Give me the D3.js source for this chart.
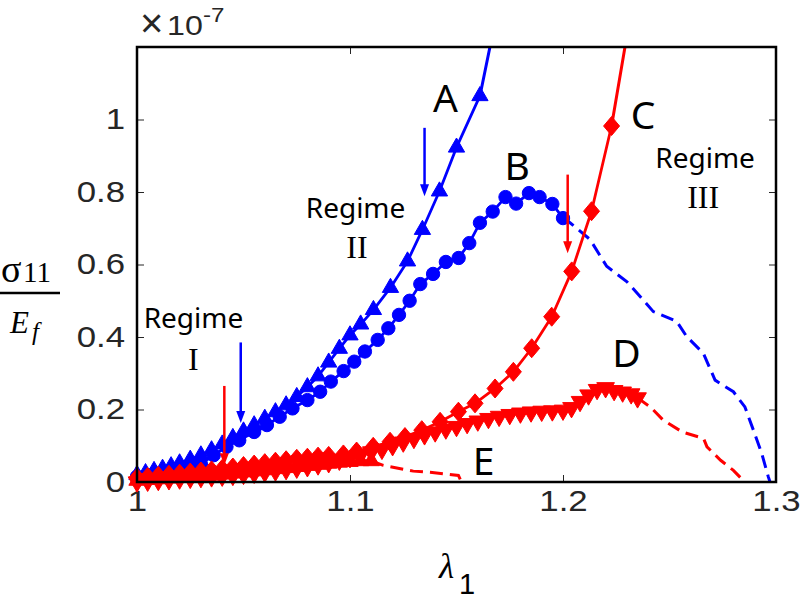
<!DOCTYPE html>
<html>
<head>
<meta charset="utf-8">
<script src="https://cdn.jsdelivr.net/npm/d3@7"></script>
<style>
  body { margin: 0; background: #fff; }
  svg { display: block; }
</style>
</head>
<body>
<div id="chart"></div>
<script>
// ---- data (lambda_1 vs sigma_11/E_f, x 1e-7) ----
var lamA = [1.000, 1.004, 1.008, 1.012, 1.016, 1.020, 1.025, 1.030, 1.035, 1.040, 1.045, 1.050, 1.055, 1.060, 1.065, 1.070, 1.075, 1.080, 1.085, 1.090, 1.095, 1.100, 1.105, 1.111, 1.119, 1.127, 1.134, 1.142, 1.150, 1.161];
var valA = [0.020, 0.025, 0.031, 0.037, 0.044, 0.052, 0.062, 0.074, 0.088, 0.104, 0.122, 0.140, 0.157, 0.175, 0.193, 0.212, 0.235, 0.262, 0.292, 0.330, 0.368, 0.405, 0.435, 0.475, 0.536, 0.609, 0.696, 0.802, 0.923, 1.065];
var lamATail = [1.161, 1.1657, 1.170];
var valATail = [1.065, 1.200, 1.320];

var lamB = [1.000, 1.005, 1.010, 1.015, 1.020, 1.025, 1.030, 1.036, 1.042, 1.048, 1.055, 1.061, 1.067, 1.073, 1.080, 1.086, 1.091, 1.097, 1.102, 1.107, 1.113, 1.118, 1.123, 1.128, 1.133, 1.139, 1.145, 1.151, 1.156, 1.161, 1.167, 1.173, 1.178, 1.184, 1.189, 1.195, 1.200];
var valB = [0.015, 0.019, 0.023, 0.027, 0.031, 0.037, 0.050, 0.074, 0.097, 0.115, 0.138, 0.157, 0.180, 0.203, 0.226, 0.249, 0.277, 0.306, 0.332, 0.360, 0.392, 0.424, 0.461, 0.500, 0.546, 0.574, 0.607, 0.618, 0.659, 0.715, 0.746, 0.786, 0.768, 0.797, 0.786, 0.767, 0.728];
var lamBDash = [1.200, 1.2033, 1.2127, 1.2205, 1.2299, 1.2362, 1.2424, 1.2534, 1.2581, 1.2659, 1.2714, 1.2800, 1.2854, 1.2894, 1.2933, 1.2964, 1.2972];
var valBDash = [0.728, 0.715, 0.669, 0.595, 0.553, 0.512, 0.470, 0.443, 0.401, 0.355, 0.281, 0.249, 0.207, 0.143, 0.079, 0.014, 0.000];

var lamC = [1.000, 1.005, 1.010, 1.015, 1.020, 1.025, 1.030, 1.035, 1.040, 1.045, 1.050, 1.055, 1.060, 1.065, 1.070, 1.075, 1.080, 1.085, 1.090, 1.0969, 1.1031, 1.1109, 1.1188, 1.1258, 1.1337, 1.1423, 1.1509, 1.1587, 1.1681, 1.1767, 1.1853, 1.1947, 1.2041, 1.2134, 1.2228];
var valC = [0.012, 0.014, 0.017, 0.020, 0.023, 0.026, 0.029, 0.032, 0.036, 0.040, 0.044, 0.048, 0.052, 0.056, 0.060, 0.064, 0.067, 0.070, 0.072, 0.076, 0.084, 0.097, 0.111, 0.124, 0.143, 0.166, 0.194, 0.217, 0.258, 0.304, 0.369, 0.456, 0.581, 0.747, 0.982];
var lamCTail = [1.2228, 1.2291, 1.232];
var valCTail = [0.982, 1.200, 1.300];

var lamD = [1.000, 1.005, 1.010, 1.015, 1.020, 1.025, 1.030, 1.035, 1.040, 1.045, 1.050, 1.055, 1.060, 1.065, 1.070, 1.075, 1.080, 1.085, 1.090, 1.095, 1.100, 1.105, 1.110, 1.115, 1.120, 1.125, 1.130, 1.135, 1.140, 1.145, 1.150, 1.155, 1.160, 1.165, 1.170, 1.175, 1.180, 1.185, 1.190, 1.195, 1.200, 1.204, 1.208, 1.212, 1.216, 1.220, 1.224, 1.228, 1.232, 1.235];
var valD = [0.000, 0.002, 0.004, 0.006, 0.008, 0.010, 0.012, 0.014, 0.016, 0.018, 0.021, 0.024, 0.027, 0.030, 0.034, 0.038, 0.042, 0.047, 0.053, 0.060, 0.067, 0.075, 0.083, 0.090, 0.100, 0.110, 0.120, 0.130, 0.138, 0.146, 0.153, 0.161, 0.168, 0.175, 0.181, 0.186, 0.190, 0.193, 0.195, 0.196, 0.198, 0.205, 0.222, 0.240, 0.255, 0.260, 0.252, 0.248, 0.243, 0.232];
var lamDDash = [1.235, 1.241, 1.247, 1.256, 1.266, 1.2676, 1.274, 1.280, 1.2845];
var valDDash = [0.232, 0.207, 0.171, 0.138, 0.120, 0.097, 0.060, 0.032, 0.005];

var lamE = [1.000, 1.005, 1.010, 1.015, 1.020, 1.025, 1.030, 1.035, 1.040, 1.045, 1.050, 1.055, 1.060, 1.065, 1.070, 1.075, 1.080, 1.085, 1.090, 1.095, 1.100, 1.105, 1.110];
var valE = [0.004, 0.006, 0.008, 0.010, 0.012, 0.014, 0.016, 0.018, 0.021, 0.024, 0.027, 0.030, 0.033, 0.036, 0.039, 0.042, 0.045, 0.048, 0.051, 0.054, 0.056, 0.058, 0.058];
var lamEDash = [1.110, 1.1156, 1.1297, 1.1376, 1.1509, 1.1520];
var valEDash = [0.058, 0.046, 0.030, 0.027, 0.018, 0.004];

var xTicks = [1, 1.1, 1.2, 1.3];
var xTickLabels = ["1", "1.1", "1.2", "1.3"];
var yTicks = [0, 0.2, 0.4, 0.6, 0.8, 1];
var yTickLabels = ["0", "0.2", "0.4", "0.6", "0.8", "1"];

// annotations, in data units
var curveNames = ["A", "B", "C", "D", "E"];
var curveNameLam = [1.1448, 1.1785, 1.2376, 1.2298, 1.1627];
var curveNameVal = [1.021, 0.833, 0.974, 0.317, 0.019];

var regimeNames = ["I", "II", "III"];
var regimeLam = [1.0265, 1.1026, 1.2667];
var regimeVal = [0.425, 0.728, 0.866];
var regimeNumLam = [1.0265, 1.1033, 1.2658];
var regimeNumVal = [0.309, 0.618, 0.756];

var arrowLam = [1.0487, 1.0410, 1.135, 1.2022];
var arrowFrom = [0.385, 0.265, 0.977, 0.848];
var arrowTo = [0.163, 0.046, 0.788, 0.631];
var arrowColor = ["#0000ff", "#ff0000", "#0000ff", "#ff0000"];

(function() {
    var width = 800, height = 600;
    var plot = { left: 137, right: 776, top: 47, bottom: 482 };
    var tickFont = "Liberation Sans, Arial, sans-serif";
    var serif = "Liberation Serif, serif";
    var labelGray = "#262626";
    var stretch = 1.2;

    var svg = d3.select("#chart")
        .append("svg")
        .attr("width", width)
        .attr("height", height);

    var x = d3.scaleLinear().domain([1, 1.3]).range([plot.left, plot.right]);
    var y = d3.scaleLinear().domain([0, 1.2]).range([plot.bottom, plot.top]);

    svg.append("defs").append("clipPath")
        .attr("id", "plot-clip")
        .append("rect")
        .attr("x", plot.left)
        .attr("y", plot.top)
        .attr("width", plot.right - plot.left)
        .attr("height", plot.bottom - plot.top);

    // axes (MATLAB style: ticks inside, mirrored on top/right)
    function styleAxis(g) {
        g.select(".domain").remove();
        g.selectAll(".tick line").attr("stroke", labelGray).attr("stroke-width", 1);
        g.selectAll(".tick text")
            .attr("fill", labelGray)
            .attr("font-family", tickFont)
            .attr("font-size", 29);
    }

    var xAxis = svg.append("g")
        .attr("transform", "translate(0," + plot.bottom + ")")
        .call(d3.axisBottom(x).tickValues(xTicks)
            .tickFormat(function(d, i) { return xTickLabels[i]; })
            .tickSizeInner(-7).tickSizeOuter(0).tickPadding(8))
        .call(styleAxis);
    xAxis.selectAll(".tick text").attr("transform", "scale(" + stretch + ",1)");

    var yAxis = svg.append("g")
        .attr("transform", "translate(" + plot.left + ",0)")
        .call(d3.axisLeft(y).tickValues(yTicks)
            .tickFormat(function(d, i) { return yTickLabels[i]; })
            .tickSizeInner(-7).tickSizeOuter(0).tickPadding(12 / stretch))
        .call(styleAxis);
    yAxis.selectAll(".tick text").attr("transform", "scale(" + stretch + ",1)");

    svg.append("g")
        .attr("transform", "translate(0," + plot.top + ")")
        .call(d3.axisTop(x).tickValues(xTicks).tickFormat("").tickSizeInner(-7).tickSizeOuter(0))
        .call(styleAxis);
    svg.append("g")
        .attr("transform", "translate(" + plot.right + ",0)")
        .call(d3.axisRight(y).tickValues(yTicks).tickFormat("").tickSizeInner(-7).tickSizeOuter(0))
        .call(styleAxis);

    // exponent label (x10^-7)
    var expo = svg.append("g")
        .attr("fill", labelGray)
        .attr("font-family", tickFont);
    expo.append("text")
        .attr("x", 140).attr("y", 37)
        .attr("font-size", 40)
        .text("\u00d7");
    expo.append("text")
        .attr("transform", "translate(167,35) scale(1.15,1)")
        .attr("font-size", 28)
        .text("10");
    expo.append("text")
        .attr("transform", "translate(203,22) scale(1.15,1)")
        .attr("font-size", 21)
        .text("-7");

    // series
    function zip(lams, vals) {
        return lams.map(function(l, i) { return [l, vals[i]]; });
    }

    var line = d3.line()
        .x(function(d) { return x(d[0]); })
        .y(function(d) { return y(d[1]); });

    var curves = svg.append("g").attr("clip-path", "url(#plot-clip)");
    var markers = svg.append("g");

    var diamondPath = "M0,-9.5L8,0L0,9.5L-8,0Z";
    var triUp = d3.symbol(d3.symbolTriangle, 115)();
    var triBig = d3.symbol(d3.symbolTriangle, 135)();
    var circ = d3.symbol(d3.symbolCircle, 140)();

    var series = [
        { pts: zip(lamA, valA), tail: zip(lamATail, valATail), tailDash: false, color: "#0000ff", shape: triUp, rot: 0 },
        { pts: zip(lamB, valB), tail: zip(lamBDash, valBDash), tailDash: true, color: "#0000ff", shape: circ, rot: 0 },
        { pts: zip(lamE, valE), tail: zip(lamEDash, valEDash), tailDash: true, color: "#ff0000", shape: triUp, rot: 0 },
        { pts: zip(lamD, valD), tail: zip(lamDDash, valDDash), tailDash: true, color: "#ff0000", shape: triBig, rot: 180 },
        { pts: zip(lamC, valC), tail: zip(lamCTail, valCTail), tailDash: false, color: "#ff0000", shape: diamondPath, rot: 0 }
    ];

    series.forEach(function(s) {
        curves.append("path")
            .datum(s.pts)
            .attr("d", line)
            .attr("fill", "none")
            .attr("stroke", s.color)
            .attr("stroke-width", 2.8)
            .attr("stroke-linejoin", "round");

        curves.append("path")
            .datum(s.tail)
            .attr("d", line)
            .attr("fill", "none")
            .attr("stroke", s.color)
            .attr("stroke-width", 3)
            .attr("stroke-dasharray", s.tailDash ? "13,7" : null);

        markers.append("g").selectAll("path")
            .data(s.pts.filter(function(d) { return d[1] <= 1.2; }))
            .enter().append("path")
            .attr("d", s.shape)
            .attr("transform", function(d) {
                return "translate(" + x(d[0]) + "," + y(d[1]) + ") rotate(" + s.rot + ")";
            })
            .attr("fill", s.color)
            .attr("stroke", s.color)
            .attr("stroke-width", 1);
    });

    // axes box
    svg.append("rect")
        .attr("x", plot.left)
        .attr("y", plot.top)
        .attr("width", plot.right - plot.left)
        .attr("height", plot.bottom - plot.top)
        .attr("fill", "none")
        .attr("stroke", "#000")
        .attr("stroke-width", 2.5);

    // arrows
    arrowLam.forEach(function(l, i) {
        var ax = x(l), y0 = y(arrowFrom[i]), y1 = y(arrowTo[i]);
        svg.append("line")
            .attr("x1", ax).attr("x2", ax)
            .attr("y1", y0).attr("y2", y1 - 10)
            .attr("stroke", arrowColor[i])
            .attr("stroke-width", 2.5);
        svg.append("path")
            .attr("d", "M" + (ax - 4.5) + "," + (y1 - 12) + "L" + (ax + 4.5) + "," + (y1 - 12) + "L" + ax + "," + y1 + "Z")
            .attr("fill", arrowColor[i]);
    });

    // curve names
    svg.selectAll(".curve-name")
        .data(curveNames)
        .enter().append("text")
        .attr("class", "curve-name")
        .attr("x", function(d, i) { return x(curveNameLam[i]); })
        .attr("y", function(d, i) { return y(curveNameVal[i]); })
        .attr("text-anchor", "middle")
        .attr("font-family", "Noto Sans, sans-serif")
        .attr("font-size", 39)
        .attr("fill", "#000")
        .text(function(d) { return d; });

    // regime labels
    svg.selectAll(".regime")
        .data(regimeNames)
        .enter().append("text")
        .attr("class", "regime")
        .attr("x", function(d, i) { return x(regimeLam[i]); })
        .attr("y", function(d, i) { return y(regimeVal[i]); })
        .attr("text-anchor", "middle")
        .attr("font-family", "Noto Sans, sans-serif")
        .attr("font-size", 28)
        .attr("fill", "#000")
        .text("Regime");

    svg.selectAll(".regime-num")
        .data(regimeNames)
        .enter().append("text")
        .attr("class", "regime-num")
        .attr("x", function(d, i) { return x(regimeNumLam[i]); })
        .attr("y", function(d, i) { return y(regimeNumVal[i]); })
        .attr("text-anchor", "middle")
        .attr("font-family", serif)
        .attr("font-size", 32)
        .attr("fill", "#000")
        .text(function(d) { return d; });

    // y label: sigma_11 / E_f
    svg.append("text")
        .attr("x", 1).attr("y", 282)
        .attr("font-family", serif)
        .attr("font-size", 38)
        .text("\u03c3");
    svg.append("text")
        .attr("x", 23).attr("y", 282)
        .attr("font-family", serif)
        .attr("font-size", 29)
        .text("11");

    svg.append("line")
        .attr("x1", 0).attr("x2", 60)
        .attr("y1", 293).attr("y2", 293)
        .attr("stroke", "#000")
        .attr("stroke-width", 2.5);

    svg.append("text")
        .attr("x", 10).attr("y", 333)
        .attr("font-family", serif)
        .attr("font-style", "italic")
        .attr("font-size", 31)
        .text("E");
    svg.append("text")
        .attr("x", 32).attr("y", 340)
        .attr("font-family", serif)
        .attr("font-style", "italic")
        .attr("font-size", 25)
        .text("f");

    // x label: lambda_1
    svg.append("text")
        .attr("x", 439).attr("y", 578)
        .attr("font-family", serif)
        .attr("font-style", "italic")
        .attr("font-size", 35)
        .text("\u03bb");
    svg.append("text")
        .attr("x", 459).attr("y", 594)
        .attr("font-family", tickFont)
        .attr("font-size", 29)
        .text("1");
})();
</script>
</body>
</html>
